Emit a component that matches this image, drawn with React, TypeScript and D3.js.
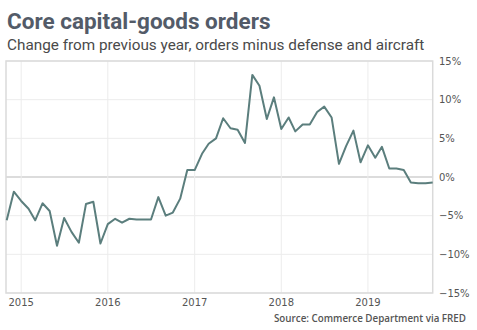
import React from "react";
import * as d3 from "d3";

const startMonth = new Date(2014, 10, 1); // Nov 2014
const values: number[] = [
  -5.6, -1.9,
  -3.1, -4.1, -5.6, -3.4, -4.4, -8.9, -5.3, -7.1, -8.5, -3.5, -3.2, -8.6,
  -6.1, -5.4, -5.9, -5.4, -5.5, -5.5, -5.5, -2.6, -5.0, -4.6, -2.8, 0.9,
  0.9, 3.0, 4.3, 5.0, 7.6, 6.3, 6.1, 4.4, 13.2, 11.8, 7.5, 10.3,
  6.2, 7.7, 5.9, 6.8, 6.8, 8.4, 9.1, 7.7, 1.7, 4.0, 6.0, 1.9,
  4.1, 2.5, 3.9, 1.1, 1.1, 0.9, -0.7, -0.8, -0.8, -0.7,
];
const yTicks: number[] = [15, 10, 5, 0, -5, -10, -15];
const xTickYears: number[] = [2015, 2016, 2017, 2018, 2019];
const title = "Core capital-goods orders";
const subtitle = "Change from previous year, orders minus defense and aircraft";
const source = "Source: Commerce Department via FRED";

const W = 477;
const H = 330;
const plot = { left: 6, top: 61, right: 432.7, bottom: 293 };

export default function App() {
  const dates = values.map((_, i) => d3.timeMonth.offset(startMonth, i));
  const x = d3
    .scaleTime()
    .domain([dates[0], dates[dates.length - 1]])
    .range([plot.left + 0.7, plot.right]);
  const y = d3.scaleLinear().domain([-15, 15]).range([plot.bottom, plot.top]);
  const line = d3
    .line<number>()
    .x((_, i) => x(dates[i]))
    .y((d) => y(d));
  const fmt = (v: number) => (v < 0 ? "\u2212" + Math.abs(v) : String(v)) + "%";

  return (
    <svg
      width={W}
      height={H}
      style={{ position: "absolute", left: 0, top: 0, background: "#fff" }}
    >
      <text
        x={7}
        y={29}
        fontFamily="Roboto"
        fontWeight={700}
        fontSize={22.5}
        fill="#535b68"
      >
        {title}
      </text>
      <text x={7} y={50} fontFamily="Roboto" fontSize={15.3} fill="#4a4a4a">
        {subtitle}
      </text>

      {yTicks.map((t) => (
        <line
          key={"gy" + t}
          x1={plot.left}
          x2={plot.right}
          y1={y(t)}
          y2={y(t)}
          stroke={t === 0 ? "#dcdcdc" : "#ececec"}
          strokeWidth={t === 0 ? 2 : 1}
        />
      ))}
      {xTickYears.map((yr) => {
        const xx = x(new Date(yr, 0, 1));
        return (
          <line
            key={"gx" + yr}
            x1={xx}
            x2={xx}
            y1={plot.top}
            y2={plot.bottom}
            stroke="#ececec"
            strokeWidth={1}
          />
        );
      })}
      <rect
        x={plot.left}
        y={plot.top}
        width={plot.right - plot.left}
        height={plot.bottom - plot.top}
        fill="none"
        stroke="#dadada"
        strokeWidth={1.5}
      />

      <path
        d={line(values) || ""}
        fill="none"
        stroke="#5b7e7d"
        strokeWidth={2}
        strokeLinejoin="round"
      />

      {yTicks.map((t) => (
        <text
          key={"ly" + t}
          x={439}
          y={y(t)}
          dy="0.35em"
          fontFamily="DejaVu Sans"
          fontSize={10}
          fill="#555"
        >
          {fmt(t)}
        </text>
      ))}
      {xTickYears.map((yr) => (
        <text
          key={"lx" + yr}
          x={x(new Date(yr, 0, 1))}
          y={306}
          textAnchor="middle"
          fontFamily="DejaVu Sans"
          fontSize={10}
          fill="#555"
        >
          {yr}
        </text>
      ))}
      <text
        x={466}
        y={322}
        textAnchor="end"
        fontFamily="Open Sans"
        fontWeight={600}
        fontSize={9.8}
        fill="#555"
      >
        {source}
      </text>
    </svg>
  );
}
